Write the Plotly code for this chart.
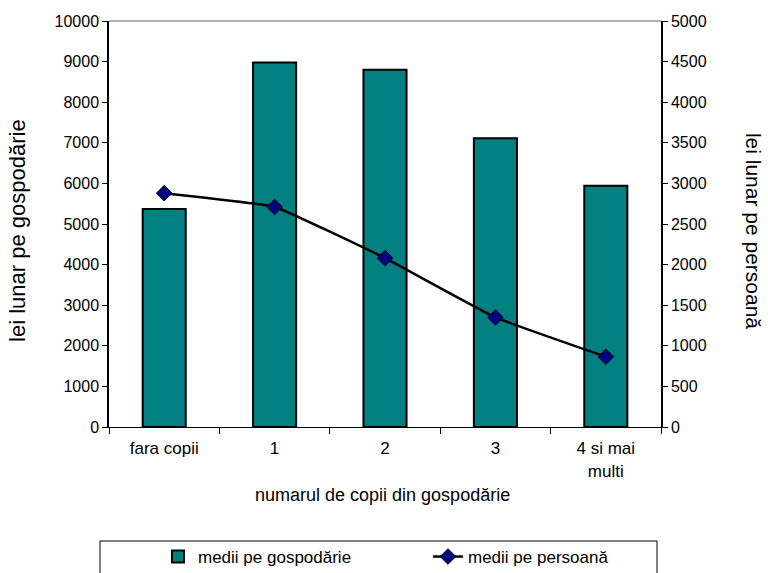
import plotly.graph_objects as go

categories = ["fara copii", "1", "2", "3", "4 si mai<br>multi"]
household = [5370, 8980, 8800, 7110, 5940]
person = [2880, 2710, 2080, 1350, 865]
left_ticks = list(range(0, 10001, 1000))
right_ticks = list(range(0, 5001, 500))

FONT = "Liberation Sans, Arial, sans-serif"

fig = go.Figure()
fig.add_trace(go.Bar(
    x=categories, y=household, name="medii pe gospodărie",
    marker=dict(color="#008080", line=dict(color="black", width=2)),
    yaxis="y",
))
fig.add_trace(go.Scatter(
    x=categories, y=person, name="medii pe persoană",
    mode="lines+markers",
    line=dict(color="black", width=2.5, shape="spline", smoothing=0.3),
    marker=dict(symbol="diamond", size=12, color="#000080",
                line=dict(color="black", width=1)),
    yaxis="y2",
))

fig.update_layout(
    width=768, height=573,
    margin=dict(l=109, r=107, t=21, b=146),
    paper_bgcolor="white", plot_bgcolor="white",
    font=dict(family=FONT, size=16, color="black"),
    bargap=0.61,
    showlegend=True,
    legend=dict(
        orientation="h", x=(158 - 109) / 552, xanchor="left",
        yref="container", y=(573 - 539) / 573, yanchor="top",
        borderwidth=0, bgcolor="rgba(0,0,0,0)", entrywidth=225,
        font=dict(size=17, family=FONT),
        traceorder="normal",
    ),
    xaxis=dict(
        type="category", showline=True, linecolor="black", linewidth=1,
        ticks="outside", tickson="boundaries", ticklen=6, tickcolor="black",
        ticklabelstandoff=6,
        tickfont=dict(size=17), showgrid=False, zeroline=False, automargin=False,
    ),
    yaxis=dict(
        range=[0, 10000], tickvals=left_ticks,
        ticktext=[str(v) for v in left_ticks],
        showline=True, linecolor="black", linewidth=1.5, ticks="outside",
        ticklen=5, tickcolor="black", showgrid=False, zeroline=False,
        tickfont=dict(size=16), automargin=False,
    ),
    yaxis2=dict(
        range=[0, 5000], tickvals=right_ticks,
        ticktext=[str(v) for v in right_ticks],
        overlaying="y", side="right",
        showline=True, linecolor="black", linewidth=1.5, ticks="outside",
        ticklen=5, tickcolor="black", showgrid=False, zeroline=False,
        tickfont=dict(size=16), automargin=False,
    ),
    shapes=[
        dict(type="line", xref="paper", yref="paper", x0=0, x1=1, y0=1, y1=1,
             line=dict(color="#999999", width=1.5)),
        dict(type="rect", xref="paper", yref="paper",
             x0=(100 - 109) / 552, x1=(657 - 109) / 552,
             y0=-0.2808, y1=-0.375, line=dict(color="black", width=1)),
    ],
    annotations=[
        dict(text="lei lunar pe gospodărie", xref="paper", yref="paper",
             x=(18 - 109) / 552, y=0.483, xanchor="center", yanchor="middle",
             textangle=-90, showarrow=False, font=dict(size=22, family=FONT)),
        dict(text="lei lunar pe persoană", xref="paper", yref="paper",
             x=(753 - 109) / 552, y=0.483, xanchor="center", yanchor="middle",
             textangle=90, showarrow=False, font=dict(size=21, family=FONT)),
        dict(text="numarul de copii din gospodărie", xref="paper", yref="paper",
             x=(382 - 109) / 552, y=-0.1675, xanchor="center", yanchor="middle",
             showarrow=False, font=dict(size=18, family=FONT)),
    ],
)

fig.write_html(
    "out.html",
    config={"displayModeBar": False},
    post_script="document.body.style.margin='0';document.body.style.overflow='hidden';",
)
